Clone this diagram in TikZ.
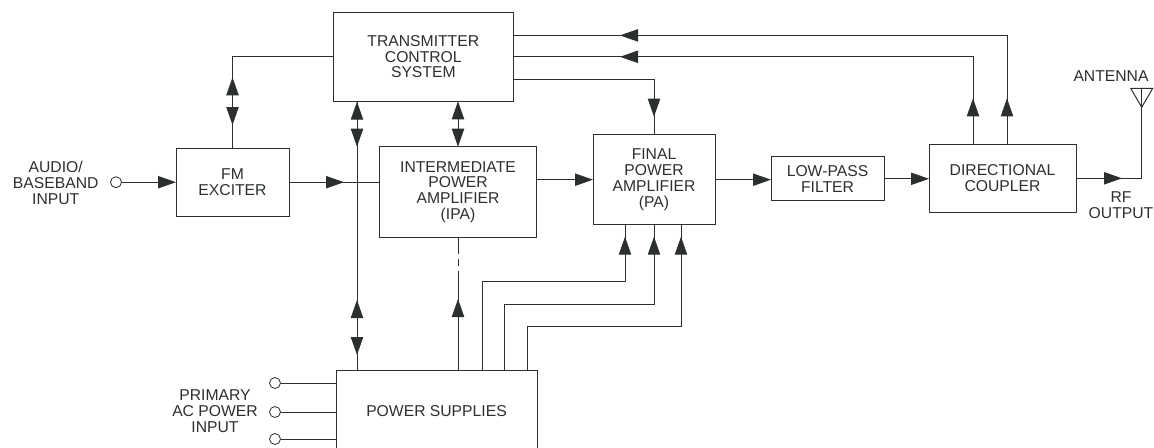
\documentclass[tikz,border=0pt]{standalone}
\usepackage{fontspec}
\setmainfont{Liberation Sans}
\usepackage{xcolor}
\usetikzlibrary{
  positioning,
  arrows.meta,
  decorations.markings
}
\definecolor{ink}{HTML}{2B302D}
\tikzset{
  >={Triangle[length=5.4mm,width=3.7mm]},
  sig/.style={draw=ink,line width=0.85pt},
  blockbox/.style 2 args={rectangle,draw=ink,line width=0.85pt,align=center,inner sep=0pt,outer sep=0pt,minimum width=#1*0.03cm,minimum height=#2*0.03cm},
  port/.style={circle,draw=ink,line width=0.7pt,inner sep=0pt,outer sep=0pt,minimum size=3.3mm},
  lbl/.style={align=center,inner sep=0pt},
  tipfwd/.style={postaction={decorate,decoration={markings,mark=at position #1*0.03cm with {\arrow[ink]{>}}}}},
  tipback/.style={postaction={decorate,decoration={markings,mark=at position #1*0.03cm with {\arrowreversed[ink]{>}}}}}
}
\begin{document}
\begin{tikzpicture}[x=0.03cm,y=-0.03cm,color=ink,font=\fontsize{13.4}{13.4}\selectfont]
    \clip (0,0) rectangle (1154,447);

    % blocks
    \node[blockbox={179.5}{89}] (tcs) at (423.3,56.8) {TRANSMITTER\\CONTROL\\SYSTEM};
    \node[blockbox={113}{67.7}] (fm) at (232.5,182.2) {FM\\EXCITER};
    \node[blockbox={157}{90.6}] (ipa) at (458,192) {INTERMEDIATE\\POWER\\AMPLIFIER\\(IPA)};
    \node[blockbox={122}{90}] (pa) at (654,179.7) {FINAL\\POWER\\AMPLIFIER\\(PA)};
    \node[blockbox={113}{44.3}] (lpf) at (827.5,178.8) {LOW-PASS\\FILTER};
    \node[blockbox={147}{68}] (dc) at (1002.5,178.3) {DIRECTIONAL\\COUPLER};
    \node[blockbox={201}{80}] (ps) at (436.5,410.7) {POWER SUPPLIES};

    % ports and labels
    \node[port] (audio) at (116,182.2) {};
    \node[lbl] (audiolbl) at (55.7,182.7) {AUDIO/\\BASEBAND\\INPUT};
    \node[lbl] (aclbl) at (215,411) {PRIMARY\\AC POWER\\INPUT};
    \node[lbl] (antlbl) at (1111,75.7) {ANTENNA};
    \node[lbl] (rflbl) at (1121,205) {RF\\OUTPUT};
    \foreach \y/\id in {383/a,412/b,439/c} {
        \node[port] (ac\id) at (275,\y) {};
        \draw[sig] (ac\id) -- (ac\id -| ps.west);
    }

    % signal path
    \draw[sig,->] (audio) -- (audio -| fm.west);
    \draw[sig,tipfwd=55] (fm.east) -- (fm.east -| ipa.west);
    \draw[sig,->] (pa.west -| ipa.east) -- (pa.west);
    \draw[sig,->] (pa.east) -- (pa.east -| lpf.west);
    \draw[sig,->] (lpf.east) -- (lpf.east -| dc.west);

    % antenna
    \coordinate (ant) at (1141.7,88.3);
    \draw[sig,tipfwd=46] (dc.east) -| (ant);
    \draw[sig] (ant) ++(-11,0) -- ++(22,0) -- ++(-11,19) -- cycle;

    % control lines
    \coordinate (bus) at (357,0);
    \coordinate (tcsa) at (513,35.4);
    \coordinate (tcsb) at (513,79.3);
    \coordinate (dca) at (1007,144.3);
    \coordinate (dcb) at (973,144.3);
    \draw[sig,tipfwd=71,tipback=23.3] (fm.north) |- (tcs.west);
    \draw[sig,tipback=0.4,tipfwd=45.4,tipback=198.7,tipfwd=253.7] (bus |- tcs.south) -- (bus |- ps.north);
    \draw[sig,<->] (ipa.north) -- (ipa.north |- tcs.south);
    \draw[sig,dash pattern=on 3cm off 0.14cm on 0.2cm off 0.15cm on 0.6cm,tipfwd=71.7] (ipa.south |- ps.north) -- (ipa.south);
    \draw[sig,tipfwd=46,tipfwd=495.9] (dca) |- (tcsa);
    \draw[sig,tipfwd=46,tipfwd=440.5] (dcb) |- (tcs.east);
    \draw[sig,tipfwd=178.4] (tcsb) -| (pa.north);

    % supply feeds
    \foreach \px/\py/\qx/\d in {482/281.3/625/277,504/304/654/284,527/326.7/681/288}
        \draw[sig,tipfwd=\d] (\px,0 |- ps.north) |- (\qx,\py) -- (\qx,0 |- pa.south);
\end{tikzpicture}
\end{document}
